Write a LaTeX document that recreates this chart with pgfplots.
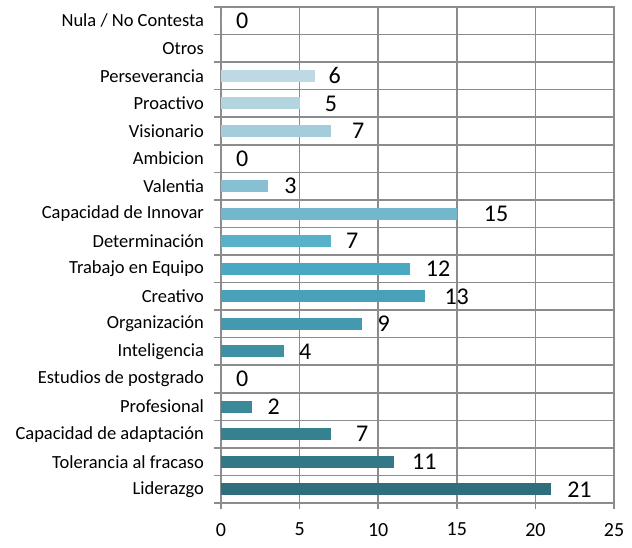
\documentclass[border=0pt]{standalone}
\usepackage{pgfplots}
\pgfplotsset{compat=1.18}
\usepackage{fontspec}
\setmainfont{Carlito}
\definecolor{c0}{HTML}{2F6E7C}
\definecolor{c1}{HTML}{327886}
\definecolor{c2}{HTML}{36818F}
\definecolor{c3}{HTML}{3A8898}
\definecolor{c5}{HTML}{3F90A3}
\definecolor{c6}{HTML}{4399AF}
\definecolor{c7}{HTML}{46A1B9}
\definecolor{c8}{HTML}{4BA8C2}
\definecolor{c9}{HTML}{56B1C9}
\definecolor{c10}{HTML}{72B7CC}
\definecolor{c11}{HTML}{87C0D2}
\definecolor{c13}{HTML}{A5CCDB}
\definecolor{c14}{HTML}{B2D5E0}
\definecolor{c15}{HTML}{BED9E3}
\definecolor{gridgray}{HTML}{8C8C8C}
\begin{document}
\begin{tikzpicture}
\begin{axis}[
  name=ax,
  scale only axis,
  width=393pt, height=496pt,
  xbar, bar shift=0pt, bar width=12pt,
  xmin=0, xmax=25,
  ymin=-0.5, ymax=17.5,
  xtick={0,5,10,15,20,25},
  ytick={-0.5,0.5,1.5,2.5,3.5,4.5,5.5,6.5,7.5,8.5,9.5,10.5,11.5,12.5,13.5,14.5,15.5,16.5},
  extra y ticks={17.5},
  extra y tick labels={},
  extra y tick style={grid=major, yticklabel style={yshift=-13.78pt, inner sep=0pt}},
  yticklabels={Liderazgo,Tolerancia al fracaso,Capacidad de adaptación,Profesional,Estudios de postgrado,Inteligencia,Organización,Creativo,Trabajo en Equipo,Determinación,Capacidad de Innovar,Valentia,Ambicion,Visionario,Proactivo,Perseverancia,Otros,Nula / No Contesta},
  xmajorgrids, ymajorgrids,
  grid style={gridgray, line width=1.6pt},
  major grid style={gridgray, line width=1.6pt},
  axis line style={gridgray, line width=1.6pt},
  major tick length=6.5pt,
  tick style={gridgray, line width=1.6pt},
  tick align=outside,
  tick pos=left,
  yticklabel style={font=\fontsize{18.5}{20}\selectfont, text=black, xshift=-7pt, yshift=13.78pt},
  xticklabel style={font=\fontsize{20}{22}\selectfont, text=black, yshift=-10pt},
  /pgf/number format/assume math mode=true,
  nodes near coords,
  nodes near coords style={font=\fontsize{24}{25}\selectfont, black, anchor=west, inner sep=0pt},
  every axis plot/.append style={draw=none},
  clip=false,
]
\addplot[fill=c0, nodes near coords style={xshift=16pt}] coordinates {(21,0)};
\addplot[fill=c1, nodes near coords style={xshift=18pt}] coordinates {(11,1)};
\addplot[fill=c2, nodes near coords style={xshift=25pt}] coordinates {(7,2)};
\addplot[fill=c3, nodes near coords style={xshift=15pt}] coordinates {(2,3)};
\addplot[fill=c3, nodes near coords style={xshift=15pt}] coordinates {(0,4)};
\addplot[fill=c5, nodes near coords style={xshift=15pt}] coordinates {(4,5)};
\addplot[fill=c6, nodes near coords style={xshift=15pt}] coordinates {(9,6)};
\addplot[fill=c7, nodes near coords style={xshift=19pt}] coordinates {(13,7)};
\addplot[fill=c8, nodes near coords style={xshift=16pt}] coordinates {(12,8)};
\addplot[fill=c9, nodes near coords style={xshift=15pt}] coordinates {(7,9)};
\addplot[fill=c10, nodes near coords style={xshift=27pt}] coordinates {(15,10)};
\addplot[fill=c11, nodes near coords style={xshift=16pt}] coordinates {(3,11)};
\addplot[fill=c11, nodes near coords style={xshift=15pt}] coordinates {(0,12)};
\addplot[fill=c13, nodes near coords style={xshift=21pt}] coordinates {(7,13)};
\addplot[fill=c14, nodes near coords style={xshift=25pt}] coordinates {(5,14)};
\addplot[fill=c15, nodes near coords style={xshift=13pt}] coordinates {(6,15)};
\addplot[fill=c15, nodes near coords style={xshift=15pt}] coordinates {(0,17)};
\end{axis}
\path ([xshift=-221pt,yshift=-45pt]ax.south west) rectangle ([xshift=18pt,yshift=7pt]ax.north east);
\end{tikzpicture}
\end{document}
